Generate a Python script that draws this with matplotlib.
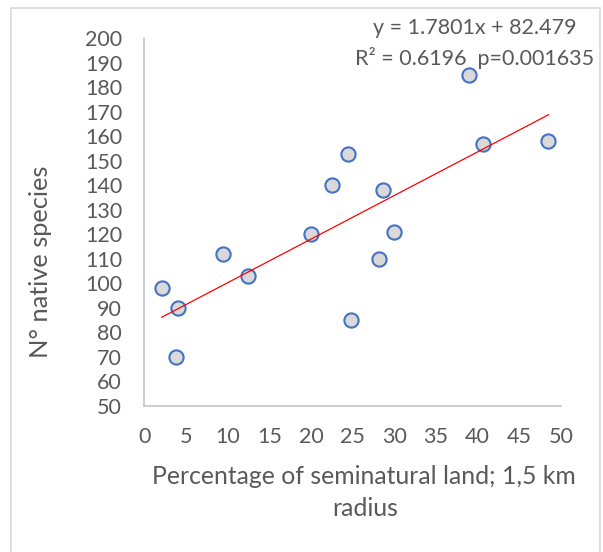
import matplotlib
matplotlib.use("Agg")
import matplotlib.pyplot as plt
from matplotlib.patches import Rectangle
import numpy as np

# Percentage of seminatural land within a 1.5 km radius vs. number of native species
seminatural_pct = [2.1, 4.0, 3.8, 9.4, 12.4, 20.0, 22.5, 24.4, 24.8, 28.2, 28.6, 30.0, 39.0, 40.6, 48.5]
native_species = [98, 90, 70, 112, 103, 120, 140, 153, 85, 110, 138, 121, 185, 157, 158]

# Linear trendline reported on the chart
slope = 1.7801
intercept = 82.479
r_squared = 0.6196
p_value = 0.001635

x_ticks = list(range(0, 55, 5))
y_ticks = list(range(50, 210, 10))

TEXT = "#595959"
AXIS = "#C6C6C6"
FONT = "Lato"

W, H = 603, 552
fig = plt.figure(figsize=(W / 100, H / 100), dpi=100)
fig.patch.set_facecolor("white")

# chart area frame
fig.patches.append(Rectangle((11 / W, -0.05), (600 - 11) / W, 1.05 - 8 / H,
                             transform=fig.transFigure, fill=False,
                             edgecolor="#D9D9D9", linewidth=1.2))

ax = fig.add_axes([144.3 / W, 1 - 406 / H, (561 - 144.3) / W, (406 - 38.3) / H])
ax.set_xlim(0, 50)
ax.set_ylim(50, 200)
ax.set_xticks(x_ticks)
ax.set_yticks(y_ticks)
ax.tick_params(length=0, labelcolor=TEXT, labelsize=15.5)
ax.tick_params(axis="y", pad=16)
ax.tick_params(axis="x", pad=15)
for lab in ax.get_xticklabels() + ax.get_yticklabels():
    lab.set_fontfamily(FONT)
for side in ("top", "right"):
    ax.spines[side].set_visible(False)
for side in ("left", "bottom"):
    ax.spines[side].set_color(AXIS)
    ax.spines[side].set_linewidth(1.2)

ax.scatter(seminatural_pct, native_species, s=105, facecolor="#D9D9D9",
           edgecolor="#4472C4", linewidths=1.5, zorder=3, clip_on=False)

xs = np.array([min(seminatural_pct), max(seminatural_pct)])
ax.plot(xs, slope * xs + intercept, color="#FF0000", linewidth=0.9, zorder=4)

fig.text(475 / W, 1 - 28 / H, f"y = {slope}x + {intercept}", ha="center", va="center",
         color=TEXT, fontsize=15.5, fontfamily=FONT)
fig.text(475 / W, 1 - 58 / H, f"R² = {r_squared}  p={p_value}", ha="center", va="center",
         color=TEXT, fontsize=15.5, fontfamily=FONT)

fig.text(41 / W, 1 - 262 / H, "N° native species", rotation=90, ha="center", va="center",
         color=TEXT, fontsize=18.3, fontfamily=FONT)
fig.text(364 / W, 1 - 477 / H, "Percentage of seminatural land; 1,5 km", ha="center",
         va="center", color=TEXT, fontsize=17.8, fontfamily=FONT)
fig.text(365 / W, 1 - 509 / H, "radius", ha="center", va="center",
         color=TEXT, fontsize=17.8, fontfamily=FONT)

fig.savefig("out.png", dpi=100)
